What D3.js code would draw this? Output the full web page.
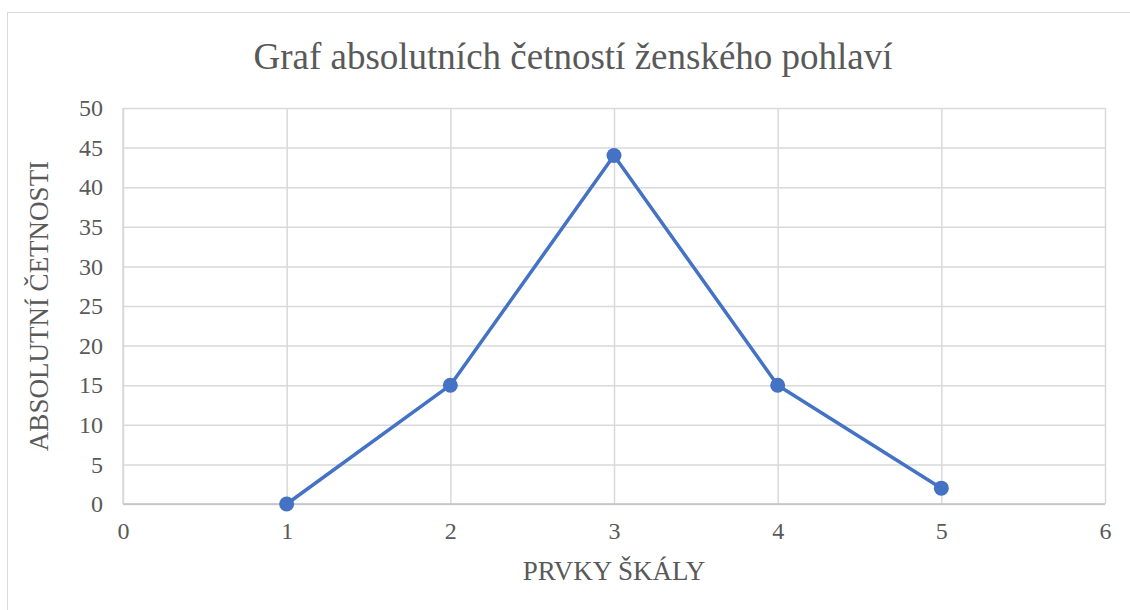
<!DOCTYPE html>
<html>
<head>
<meta charset="utf-8">
<script src="https://cdn.jsdelivr.net/npm/d3@7"></script>
<style>
  html, body { margin: 0; padding: 0; background: #fff; }
  svg { display: block; }
  text { font-family: "Liberation Serif", "Times New Roman", serif; fill: #595959; }
</style>
</head>
<body>
<svg id="chart" width="1130" height="610"></svg>
<script>
// Frequency of answers per scale item (female respondents)
const scaleItems = [1, 2, 3, 4, 5];
const counts = [0, 15, 44, 15, 2];
const xTicks = [0, 1, 2, 3, 4, 5, 6];
const yTicks = [0, 5, 10, 15, 20, 25, 30, 35, 40, 45, 50];

const chartTitle = "Graf absolutních četností ženského pohlaví";
const xTitle = "PRVKY ŠKÁLY";
const yTitle = "ABSOLUTNÍ ČETNOSTI";

const svg = d3.select("#chart");
const W = 1130, H = 610;
const plot = { left: 123, right: 1105, top: 108, bottom: 504 };
const fontStack = "Liberation Serif, Times New Roman, serif";

// Outer chart frame
svg.append("rect")
  .attr("x", 7.5).attr("y", 12.5)
  .attr("width", W + 10).attr("height", H + 10)
  .attr("fill", "#fff").attr("stroke", "#d9d9d9").attr("stroke-width", 1);

const x = d3.scaleLinear().domain([0, 6]).range([plot.left, plot.right]);
const y = d3.scaleLinear().domain([0, 50]).range([plot.bottom, plot.top]);

// Horizontal gridlines
svg.append("g")
  .attr("transform", `translate(${plot.left},0)`)
  .call(d3.axisLeft(y).tickValues(yTicks).tickSize(-(plot.right - plot.left)).tickFormat(""))
  .call(g => g.select(".domain").remove())
  .call(g => g.selectAll("line").attr("stroke", "#d9d9d9").attr("stroke-width", 1.5));

// Vertical gridlines
svg.append("g")
  .attr("transform", `translate(0,${plot.bottom})`)
  .call(d3.axisBottom(x).tickValues(xTicks).tickSize(-(plot.bottom - plot.top)).tickFormat(""))
  .call(g => g.select(".domain").remove())
  .call(g => g.selectAll("line").attr("stroke", "#d9d9d9").attr("stroke-width", 1.5));

// Axis baselines
svg.append("line")
  .attr("x1", plot.left).attr("x2", plot.right)
  .attr("y1", plot.bottom).attr("y2", plot.bottom)
  .attr("stroke", "#bfbfbf").attr("stroke-width", 1.5);
svg.append("line")
  .attr("x1", plot.left).attr("x2", plot.left)
  .attr("y1", plot.top).attr("y2", plot.bottom)
  .attr("stroke", "#d9d9d9").attr("stroke-width", 1.5);

// Tick labels
const yAxis = svg.append("g")
  .attr("transform", `translate(${plot.left},0)`)
  .call(d3.axisLeft(y).tickValues(yTicks).tickFormat(d3.format("d")).tickSize(0).tickPadding(20));
yAxis.select(".domain").remove();
yAxis.selectAll("text").attr("font-size", 24).attr("fill", "#595959")
  .attr("font-family", fontStack);

const xAxis = svg.append("g")
  .attr("transform", `translate(0,${plot.bottom})`)
  .call(d3.axisBottom(x).tickValues(xTicks).tickFormat(d3.format("d")).tickSize(0).tickPadding(18));
xAxis.select(".domain").remove();
xAxis.selectAll("text").attr("font-size", 24).attr("fill", "#595959")
  .attr("font-family", fontStack);

// Data line and markers
const data = scaleItems.map((s, i) => ({ s, v: counts[i] }));
svg.append("path")
  .datum(data)
  .attr("fill", "none")
  .attr("stroke", "#4472C4")
  .attr("stroke-width", 3.5)
  .attr("stroke-linejoin", "round")
  .attr("d", d3.line().x(d => x(d.s)).y(d => y(d.v)));

svg.append("g").selectAll("circle")
  .data(data).join("circle")
  .attr("cx", d => x(d.s)).attr("cy", d => y(d.v))
  .attr("r", 7.5)
  .attr("fill", "#4472C4");

// Titles
svg.append("text")
  .attr("x", 573).attr("y", 69)
  .attr("text-anchor", "middle")
  .attr("font-size", 37)
  .text(chartTitle);

svg.append("text")
  .attr("x", (plot.left + plot.right) / 2).attr("y", 580)
  .attr("text-anchor", "middle")
  .attr("font-size", 27)
  .text(xTitle);

svg.append("text")
  .attr("transform", `translate(48,${(plot.top + plot.bottom) / 2}) rotate(-90)`)
  .attr("text-anchor", "middle")
  .attr("font-size", 27)
  .text(yTitle);
</script>
</body>
</html>
